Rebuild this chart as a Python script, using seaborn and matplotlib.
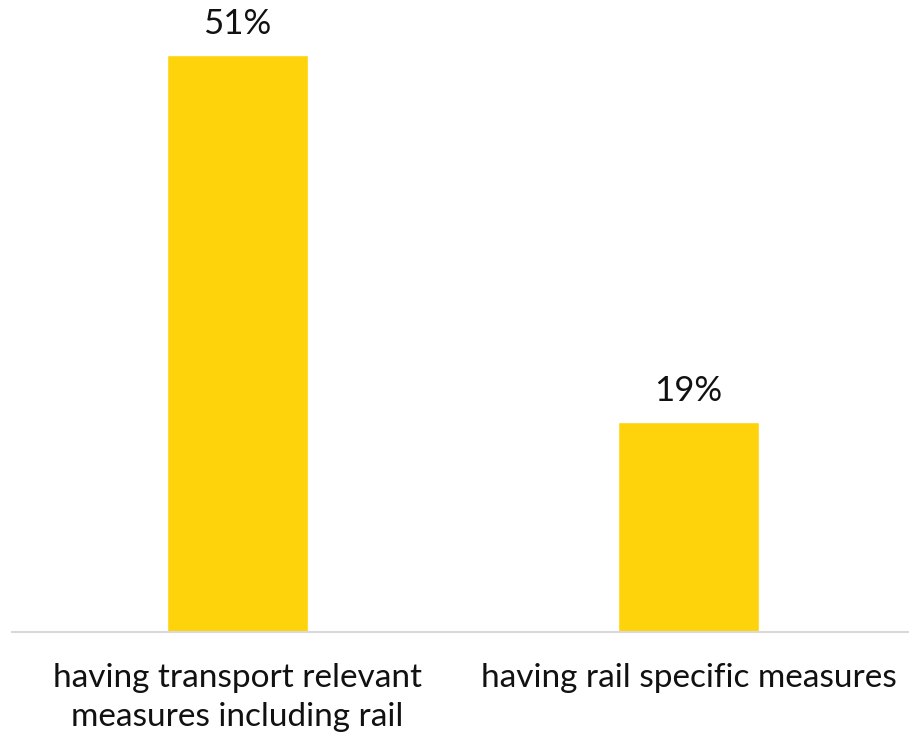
import matplotlib
matplotlib.use('Agg')
import matplotlib.pyplot as plt
import seaborn as sns
import pandas as pd

# данные
categories = ['having transport relevant\nmeasures including rail', 'having rail specific measures']
shares = [0.514, 0.187]

df = pd.DataFrame({'category': categories, 'share': shares})

sns.set_style('white')
plt.rcParams['font.family'] = ['Lato', 'DejaVu Sans']

fig = plt.figure(figsize=(9.09, 7.34), dpi=100)
ax = fig.add_axes([12/909, 102/734, 902/909, 632/734])

sns.barplot(data=df, x='category', y='share', color='#FFD30B', saturation=1,
            width=0.3125, ax=ax)

ax.set_xlim(-0.5, 1.5)
ax.set_ylim(0, 632/1122)

for i, v in enumerate(shares):
    ax.annotate(f'{v:.0%}', (i, v), xytext=(0, 11), textcoords='offset points',
                ha='center', va='bottom', fontsize=25, color='#111111')

ax.set_xlabel('')
ax.set_ylabel('')
ax.set_yticks([])
ax.tick_params(axis='x', length=0, pad=22, labelsize=24, labelcolor='#111111')
for lbl in ax.get_xticklabels():
    lbl.set_linespacing(1.4)
for s in ['top', 'left', 'right']:
    ax.spines[s].set_visible(False)
ax.spines['bottom'].set_color('#D9D9D9')
ax.spines['bottom'].set_linewidth(1.5)

plt.savefig('out.png', dpi=100)
